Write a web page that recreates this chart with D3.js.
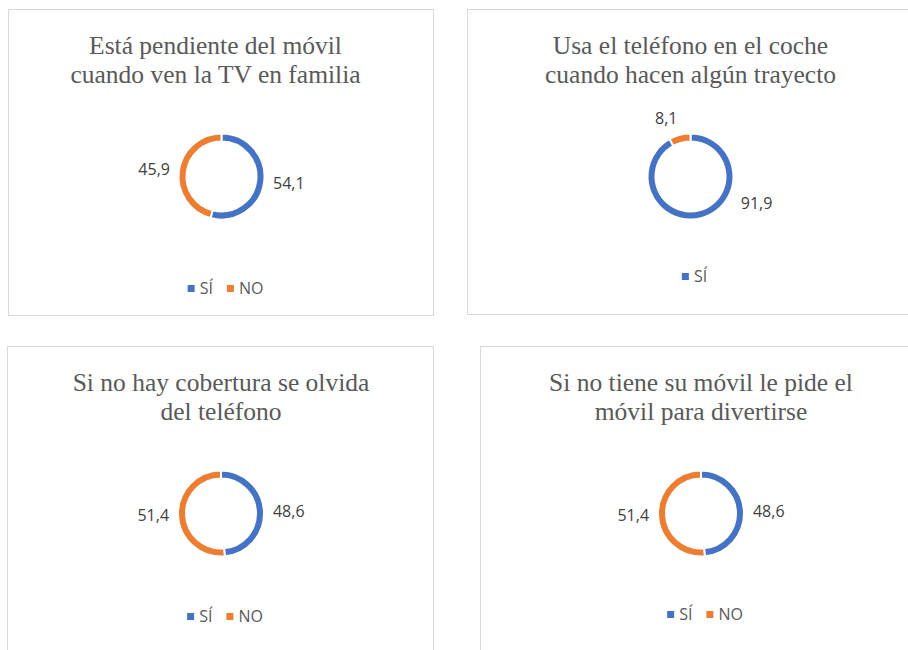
<!DOCTYPE html>
<html>
<head>
<meta charset="utf-8">
<script src="https://cdn.jsdelivr.net/npm/d3@7"></script>
<style>
  body { margin: 0; background: #fff; }
  svg { display: block; }
</style>
</head>
<body>
<div id="chart"></div>
<script>
// data
var titles = [
    ["Está pendiente del móvil", "cuando ven la TV en familia"],
    ["Usa el teléfono en el coche", "cuando hacen algún trayecto"],
    ["Si no hay cobertura se olvida", "del teléfono"],
    ["Si no tiene su móvil le pide el", "móvil para divertirse"]
];
var categories = ["SÍ", "NO"];
var siValues = [54.1, 91.9, 48.6, 48.6];
var noValues = [45.9, 8.1, 51.4, 51.4];
// second chart only shows SÍ in its legend
var legendItems = [["SÍ", "NO"], ["SÍ"], ["SÍ", "NO"], ["SÍ", "NO"]];

var colors = { "SÍ": "#4472C4", "NO": "#ED7D31" };

// panel frames (layout only)
var panels = [
    { x: 8.5, y: 9.5, w: 425, h: 306, legendY: 279, titleDx: -6 },
    { x: 467.5, y: 9.5, w: 445, h: 305, legendY: 267, titleDx: 0 },
    { x: 7.5, y: 346.5, w: 426, h: 320, legendY: 270, titleDx: 0 },
    { x: 480.5, y: 346.5, w: 440, h: 320, legendY: 268, titleDx: 0 }
];

var width = 908, height = 650;
var outerR = 43, innerR = 35;

var svg = d3.select("#chart")
    .append("svg")
    .attr("width", width)
    .attr("height", height);

var pie = d3.pie()
    .sort(null)
    .value(function (d) { return d.value; });

var arc = d3.arc()
    .innerRadius(innerR)
    .outerRadius(outerR);

var fmt = function (v) { return d3.format(".1f")(v).replace(".", ","); };

panels.forEach(function (p, i) {
    var g = svg.append("g")
        .attr("transform", "translate(" + p.x + "," + p.y + ")");

    g.append("rect")
        .attr("width", p.w)
        .attr("height", p.h)
        .attr("fill", "#fff")
        .attr("stroke", "#d9d9d9")
        .attr("stroke-width", 1);

    var cx = 213 + (p.w - 425) / 2;

    // title
    var title = g.append("text")
        .attr("text-anchor", "middle")
        .attr("font-family", "'Liberation Serif', 'Times New Roman', serif")
        .attr("font-size", 25.5)
        .attr("fill", "#595959");
    titles[i].forEach(function (line, k) {
        title.append("tspan")
            .attr("x", cx + p.titleDx)
            .attr("y", 44.5 + k * 29)
            .text(line);
    });

    // donut
    var data = [
        { key: categories[0], value: siValues[i] },
        { key: categories[1], value: noValues[i] }
    ];
    var donut = g.append("g")
        .attr("transform", "translate(" + cx + ",167)");

    var slices = pie(data);

    donut.selectAll("path")
        .data(slices)
        .join("path")
        .attr("d", arc)
        .attr("fill", function (d) { return colors[d.data.key]; })
        .attr("stroke", "#fff")
        .attr("stroke-width", 2);

    // data labels, placed outside the ring
    donut.selectAll("text.lbl")
        .data(slices)
        .join("text")
        .attr("class", "lbl")
        .attr("font-family", "'Open Sans', sans-serif")
        .attr("font-size", 16)
        .attr("fill", "#404040")
        .each(function (d) {
            var a = (d.startAngle + d.endAngle) / 2;
            var deg = a * 180 / Math.PI;
            var r = outerR + 9;
            // keep labels of big slices beside the ring, not under it
            if (deg > 120 && deg < 240) {
                a = (deg < 180 ? 118 : 242) * Math.PI / 180;
                r = outerR + 14;
            }
            var px = r * Math.sin(a);
            var py = -r * Math.cos(a);
            var s = Math.sin(a);
            var anchor = s > 0.2 ? "start" : (s < -0.2 ? "end" : "middle");
            if (py < -outerR * 0.8) py -= 8;
            d3.select(this)
                .attr("x", px)
                .attr("y", py)
                .attr("dy", "0.35em")
                .attr("text-anchor", anchor)
                .text(fmt(d.data.value));
        });

    // legend
    var legend = g.append("g");
    var off = 0;
    legendItems[i].forEach(function (name) {
        var item = legend.append("g").attr("transform", "translate(" + off + ",0)");
        item.append("rect")
            .attr("x", 0)
            .attr("y", -3.5)
            .attr("width", 7)
            .attr("height", 7)
            .attr("fill", colors[name]);
        var t = item.append("text")
            .attr("x", 12)
            .attr("y", 0)
            .attr("dy", "0.35em")
            .attr("font-family", "'Open Sans', sans-serif")
            .attr("font-size", 16)
            .attr("fill", "#595959")
            .text(name);
        off += 12 + t.node().getComputedTextLength() + 14;
    });
    var lw = off - 14;
    legend.attr("transform", "translate(" + (cx - lw / 2 + 4) + "," + p.legendY + ")");
});
</script>
</body>
</html>
